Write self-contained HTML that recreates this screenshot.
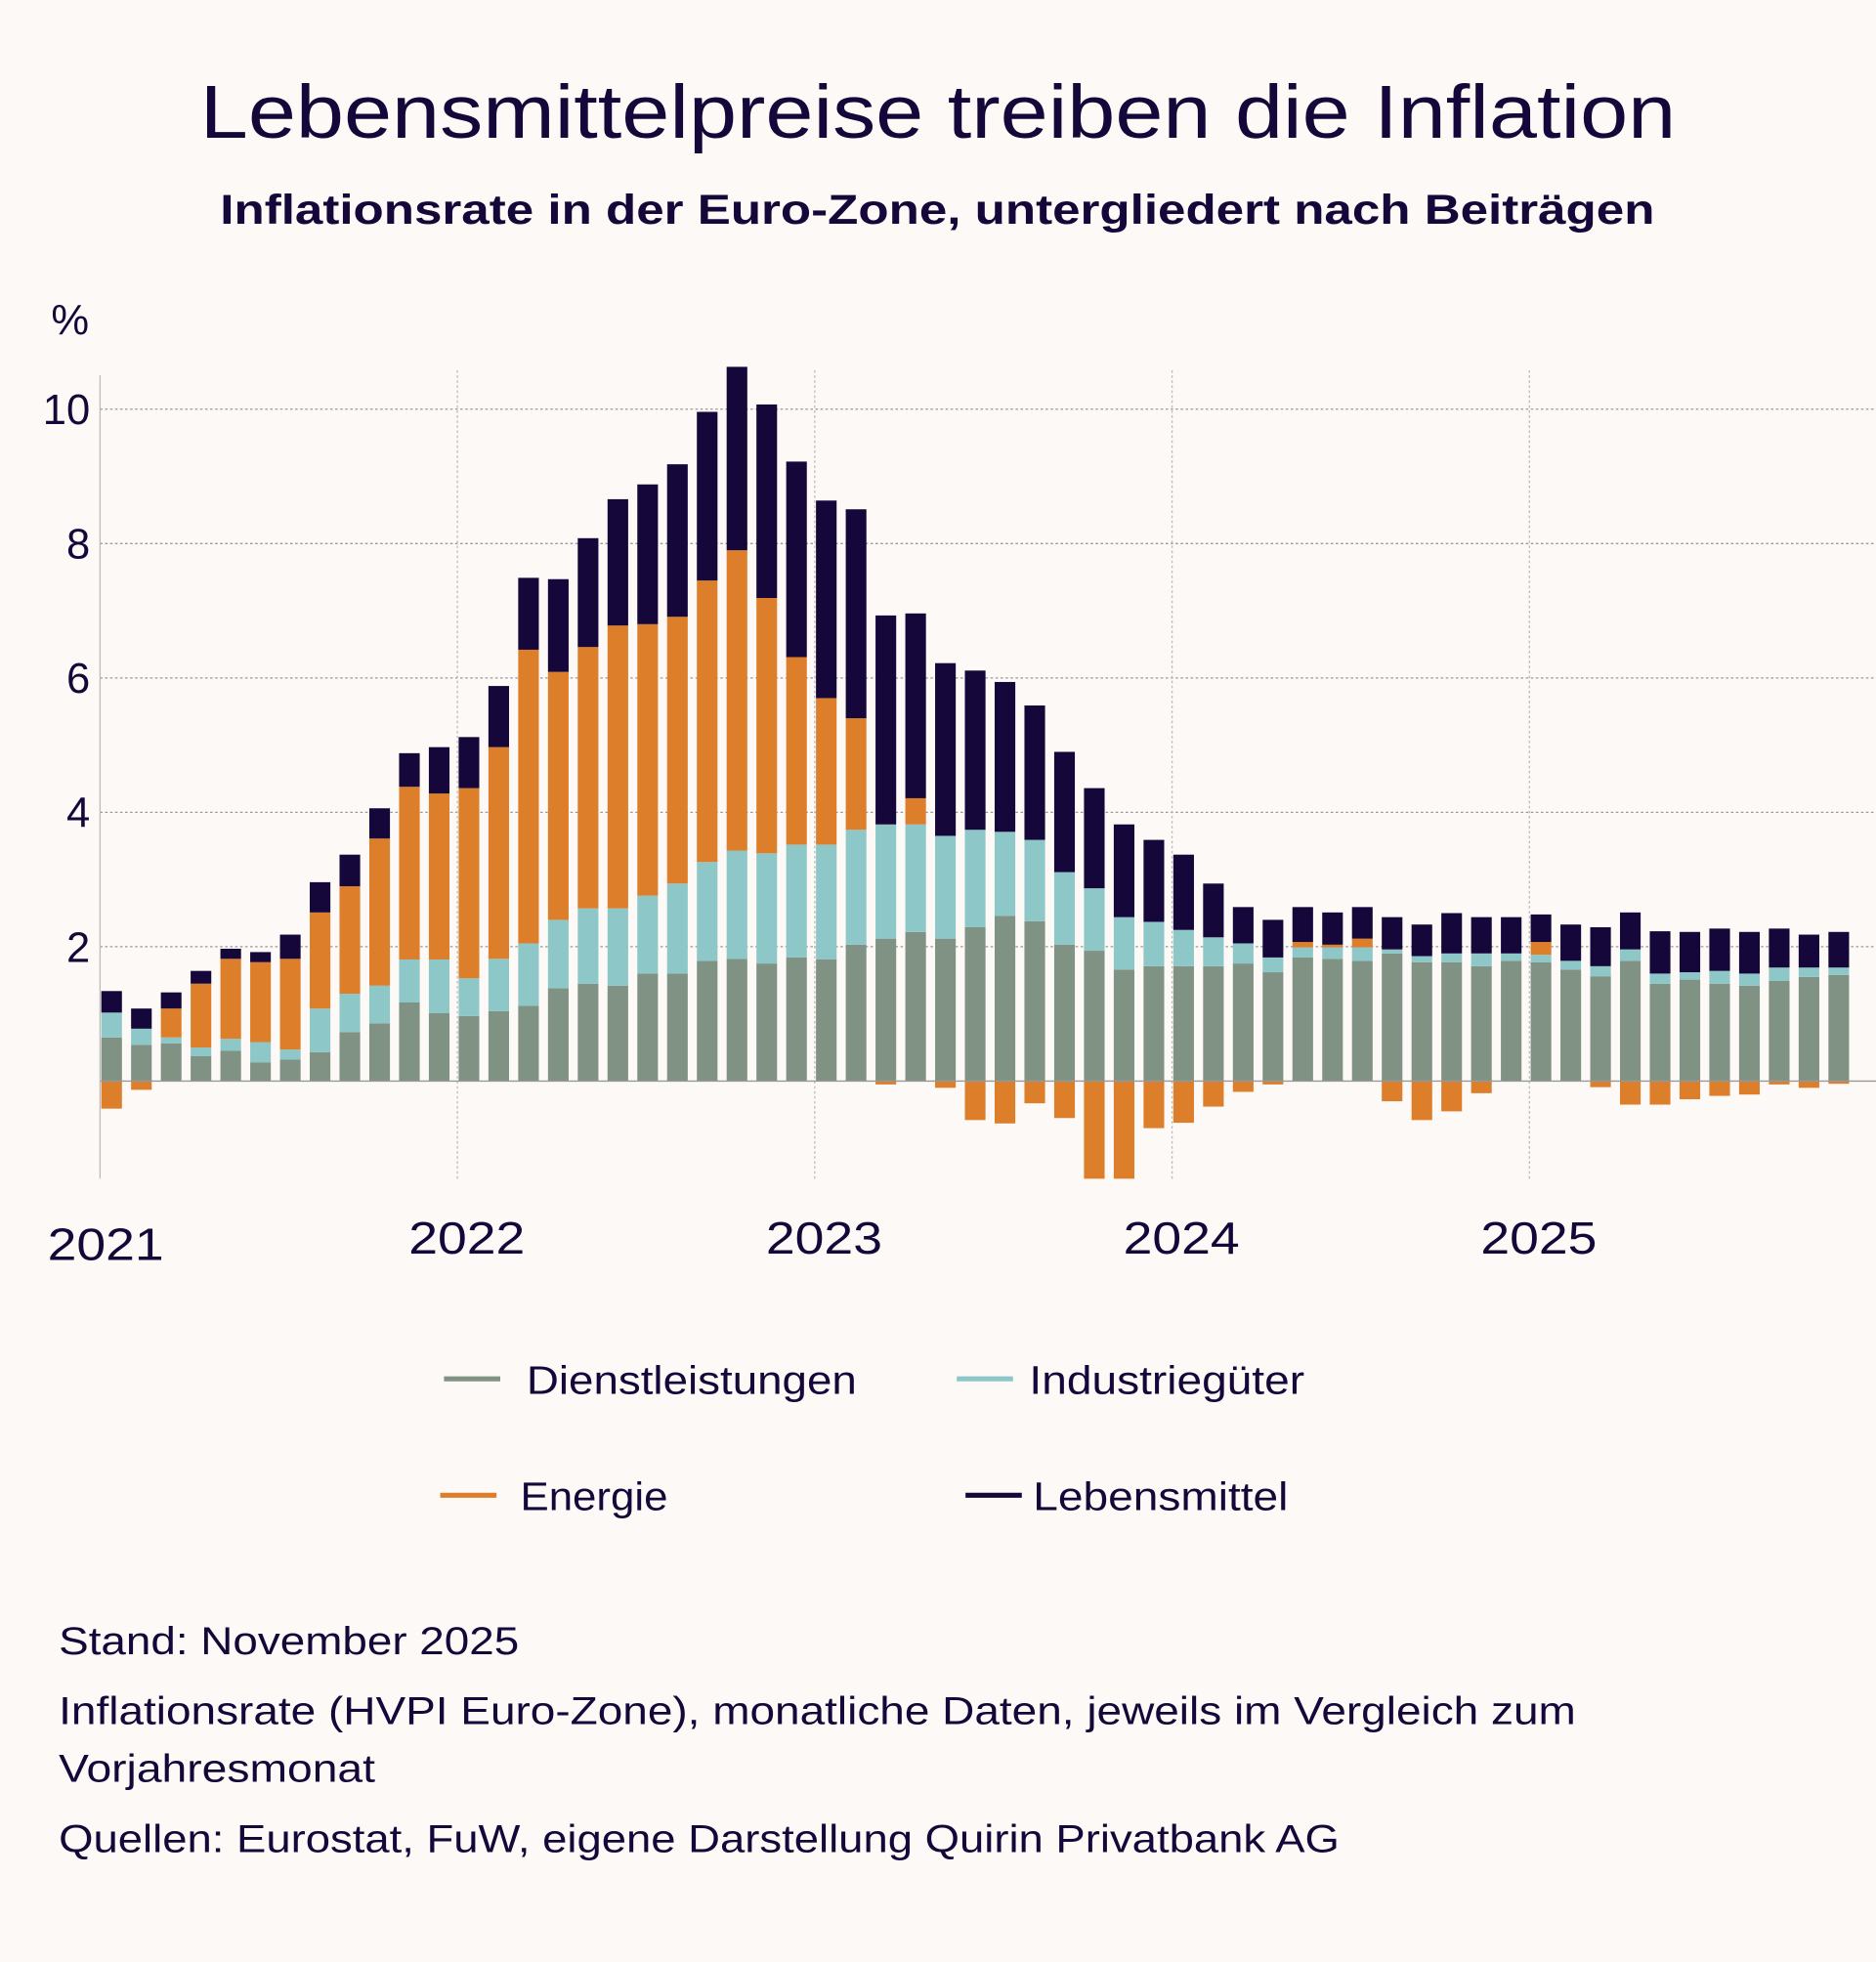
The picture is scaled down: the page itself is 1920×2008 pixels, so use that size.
<!DOCTYPE html>
<html><head><meta charset="utf-8"><style>
html,body{margin:0;padding:0;background:#fcf9f6;}
svg{display:block;}
text{font-family:"Liberation Sans",sans-serif;fill:#16073a;}
</style></head><body>
<svg id="chart" width="1920" height="2008" viewBox="0 0 1500 1568" preserveAspectRatio="none" xmlns="http://www.w3.org/2000/svg">
<rect width="1500" height="1568" fill="#fcf9f6"/>
<text x="160" y="110" font-size="60" textLength="1180" lengthAdjust="spacingAndGlyphs">Lebensmittelpreise treiben die Inflation</text>
<text x="176" y="179" font-size="33" font-weight="bold" textLength="1147" lengthAdjust="spacingAndGlyphs">Inflationsrate in der Euro-Zone, untergliedert nach Beiträgen</text>
<text x="56" y="267" text-anchor="middle" font-size="34">%</text>
<defs><clipPath id="pc"><rect x="80" y="290" width="1420" height="652"/></clipPath></defs>
<g id="grid"></g>
<g id="bars" clip-path="url(#pc)"></g>
<g id="axes"></g>
<g>
<line x1="355" y1="1102" x2="400" y2="1102" stroke="#7f9283" stroke-width="4"/>
<text x="421" y="1114" font-size="32" textLength="264" lengthAdjust="spacingAndGlyphs">Dienstleistungen</text>
<line x1="765" y1="1102" x2="810" y2="1102" stroke="#8ec7c8" stroke-width="4"/>
<text x="823" y="1114" font-size="32" textLength="220" lengthAdjust="spacingAndGlyphs">Industriegüter</text>
<line x1="352" y1="1195" x2="397" y2="1195" stroke="#dd7e2b" stroke-width="4"/>
<text x="416" y="1207" font-size="32" textLength="118" lengthAdjust="spacingAndGlyphs">Energie</text>
<line x1="772" y1="1195" x2="817" y2="1195" stroke="#16073a" stroke-width="4"/>
<text x="826" y="1207" font-size="32" textLength="204" lengthAdjust="spacingAndGlyphs">Lebensmittel</text>
</g>
<g>
<text x="47" y="1322" font-size="31" textLength="368" lengthAdjust="spacingAndGlyphs">Stand: November 2025</text>
<text x="47" y="1378" font-size="31" textLength="1213" lengthAdjust="spacingAndGlyphs">Inflationsrate (HVPI Euro-Zone), monatliche Daten, jeweils im Vergleich zum</text>
<text x="47" y="1424" font-size="31" textLength="253" lengthAdjust="spacingAndGlyphs">Vorjahresmonat</text>
<text x="47" y="1480" font-size="31" textLength="1024" lengthAdjust="spacingAndGlyphs">Quellen: Eurostat, FuW, eigene Darstellung Quirin Privatbank AG</text>
</g>
</svg>
<script>
const services=[0.65,0.54,0.56,0.37,0.45,0.28,0.32,0.43,0.73,0.86,1.17,1.01,0.97,1.04,1.12,1.38,1.45,1.42,1.60,1.60,1.79,1.82,1.75,1.84,1.81,2.03,2.12,2.22,2.12,2.29,2.46,2.38,2.03,1.94,1.66,1.71,1.71,1.71,1.75,1.62,1.84,1.82,1.79,1.90,1.77,1.77,1.71,1.79,1.77,1.66,1.56,1.79,1.45,1.51,1.45,1.42,1.49,1.55,1.58];
const industrial=[0.37,0.24,0.09,0.13,0.18,0.30,0.15,0.65,0.57,0.56,0.64,0.80,0.56,0.78,0.93,1.02,1.12,1.15,1.16,1.34,1.47,1.61,1.64,1.68,1.71,1.71,1.70,1.60,1.53,1.45,1.25,1.21,1.08,0.93,0.78,0.66,0.54,0.43,0.30,0.22,0.15,0.17,0.20,0.06,0.09,0.13,0.19,0.11,0.11,0.13,0.15,0.17,0.15,0.11,0.19,0.18,0.20,0.14,0.11];
const energy=[-0.41,-0.13,0.43,0.95,1.19,1.19,1.35,1.43,1.60,2.19,2.57,2.47,2.83,3.15,4.37,3.69,3.89,4.21,4.04,3.97,4.19,4.47,3.80,2.79,2.18,1.66,-0.05,0.39,-0.10,-0.58,-0.63,-0.33,-0.55,-1.6,-1.6,-0.70,-0.62,-0.38,-0.16,-0.05,0.08,0.04,0.13,-0.30,-0.58,-0.45,-0.18,0,0.19,0,-0.09,-0.35,-0.35,-0.27,-0.22,-0.20,-0.05,-0.10,-0.04];
const food=[0.32,0.30,0.24,0.19,0.15,0.15,0.36,0.45,0.47,0.45,0.50,0.69,0.76,0.91,1.07,1.38,1.62,1.88,2.08,2.27,2.51,2.73,2.88,2.91,2.94,3.11,3.11,2.75,2.57,2.37,2.23,2.00,1.79,1.49,1.38,1.22,1.12,0.80,0.54,0.56,0.52,0.48,0.47,0.48,0.47,0.60,0.54,0.54,0.41,0.54,0.58,0.55,0.63,0.60,0.63,0.62,0.58,0.49,0.53];
const yTicks=[2,4,6,8,10];
const yearLabels=["2021","2022","2023","2024","2025"];

const NS="http://www.w3.org/2000/svg";
const x0=80,monthW=23.81,barW=16.5;
const yScale=v=>864-v*53.7;
const xScale=i=>81+monthW*i;
function mk(tag,attrs,parent){const e=document.createElementNS(NS,tag);for(const k in attrs)e.setAttribute(k,attrs[k]);parent.appendChild(e);return e;}
const grid=document.getElementById('grid'),bars=document.getElementById('bars'),axes=document.getElementById('axes');
yTicks.forEach(t=>{
  const l=mk('line',{x1:x0,x2:1500,y1:yScale(t),y2:yScale(t),stroke:'#999',"stroke-width":1,"stroke-dasharray":"2,2"},grid);
  
  
  const tx=mk('text',{x:72,y:yScale(t)+12,"text-anchor":"end","font-size":34},axes);
  tx.textContent=t;
  
  
});
yearLabels.forEach((y,k)=>{
  const xv=x0+k*12*monthW;
  if(k>0){
    const l=mk('line',{x1:xv,x2:xv,y1:296,y2:942,stroke:'#bbb',"stroke-width":1,"stroke-dasharray":"2,2"},grid);
    
    
  }
  const cx=k==0?85:xv+8;
  const tx=mk('text',{x:cx-47,y:k==0?1007:1002,"font-size":36,textLength:93,lengthAdjust:"spacingAndGlyphs"},axes);
  tx.textContent=y;
  
  
});
const colors={s:'#7f9283',i:'#8ec7c8',e:'#dd7e2b',f:'#16073a'};
function seg(i,a,b,c,name){
  if(Math.abs(b-a)<1e-6)return;
  const y1=yScale(Math.max(a,b)),y2=yScale(Math.min(a,b));
  const r=mk('rect',{x:xScale(i),y:y1,width:barW,height:y2-y1,fill:c},bars);
  
  
}
services.forEach((s,i)=>{
  let top=0;
  seg(i,top,top+s,colors.s,'bar-dienstleistungen');top+=s;
  seg(i,top,top+industrial[i],colors.i,'bar-industriegueter');top+=industrial[i];
  if(energy[i]>0){seg(i,top,top+energy[i],colors.e,'bar-energie');top+=energy[i];}
  else seg(i,0,energy[i],colors.e,'bar-energie');
  seg(i,top,top+food[i],colors.f,'bar-lebensmittel');
});
const za=mk('line',{x1:x0,x2:1500,y1:864,y2:864,stroke:'#999',"stroke-width":1},axes);


const ya=mk('line',{x1:x0,x2:x0,y1:300,y2:942,stroke:'#bbb',"stroke-width":1},axes);


</script>
</body></html>
